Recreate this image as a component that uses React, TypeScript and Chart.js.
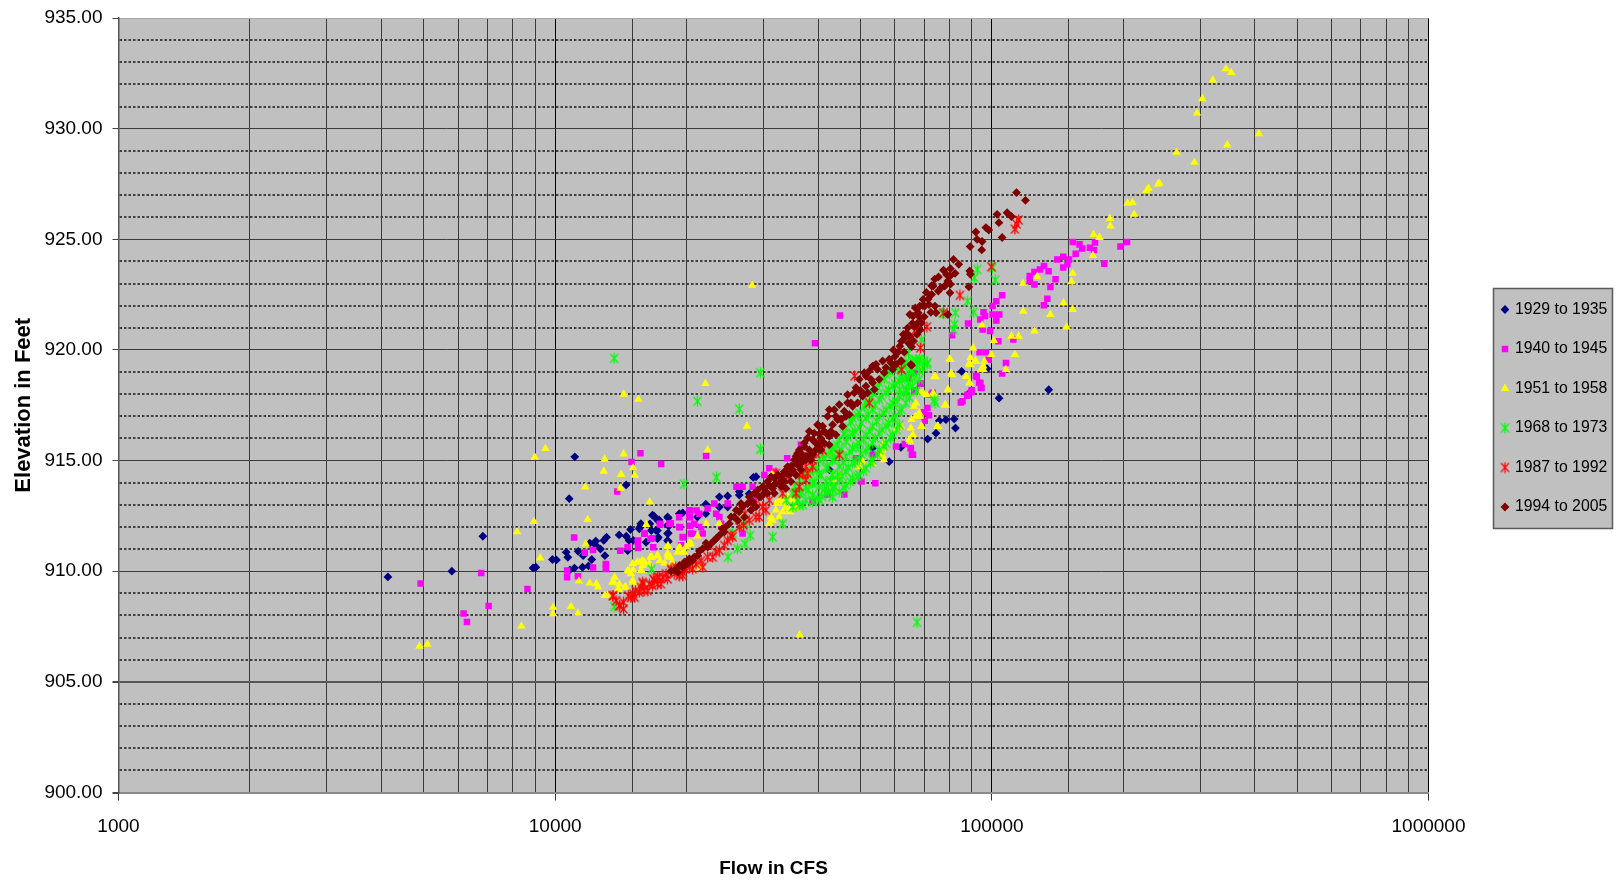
import React, { useEffect, useRef } from "react";
import { Chart, registerables } from "chart.js";
import { drawPoint } from "chart.js/helpers";

Chart.register(...registerables);

const flowLabels = [1000, 10000, 100000, 1000000];
const majorElevations = [900, 905, 910, 915, 920, 925, 930, 935];
const seriesNames = ["1929 to 1935", "1940 to 1945", "1951 to 1958", "1968 to 1973", "1987 to 1992", "1994 to 2005"];

const s1929: [number, number][] = [
  [4140,909.74],[5800,910],[6830,911.58],[11090,915.17],[10770,913.28],[14540,913.9],[8900,910.15],[9030,910.18],[9860,910.53],[10070,910.51],
  [10600,910.86],[10690,910.63],[10810,910.06],[11070,910.14],[11550,910.18],[11920,910.24],[12130,910.53],[11590,910.7],[11290,910.9],[12000,911.27],
  [12390,911.36],[12390,911.17],[12700,911],[13000,910.7],[12920,911.39],[13110,911.54],[14010,911.64],[14550,911.58],[14880,911.88],[14760,911.39],
  [15100,911.39],[14660,910.93],[15630,911.99],[15780,912.09],[16150,911.31],[16480,912.14],[16600,911.84],[16830,912.5],[17140,911.84],[17220,911.54],
  [17300,912.32],[18160,912.4],[18250,912.06],[18160,911.72],[18160,911.34],[19590,912.64],[15580,911.92],[15710,912.15],[16700,912.53],[17160,912.3],
  [17010,911.85],[17160,911.47],[18090,912.45],[18090,912.08],[18090,911.7],[18090,911.39],[19240,912.6],[21170,912.45],[22130,912.6],[22130,913.03],
  [23770,913.36],[23770,912.9],[24830,913.4],[24830,912.9],[26400,913.6],[26400,913.44],[27820,913.5],[28420,914.24],[28840,914.27],
  [85300,919.03],[97500,919.15],[88000,917.98],[103900,917.82],[75800,916.8],[78520,916.85],[82000,916.88],[82540,916.47],[74500,916.24],[71300,915.97],
  [61900,915.6],[58200,914.95],[53300,915.56],[42460,914.58],[135000,918.2],
];

const s1940: [number, number][] = [
  [4920,909.44],[6770,909.92],[6170,908.09],[6280,907.7],[7040,908.43],[8640,909.2],[11050,911.52],[10650,910.03],[10650,909.73],[11270,909.77],
  [11690,910.84],[12210,910.96],[12210,910.17],[13060,910.33],[13060,910.1],[13870,913.6],[14960,914.94],[15680,915.33],[17490,914.85],[14090,910.93],
  [14650,911.08],[15490,911.39],[15490,911.05],[16030,911.69],[16700,911.49],[16770,911.08],[17420,912.11],[18400,912.17],[19230,912.44],[19290,911.99],
  [20340,912.74],[20340,912.44],[20340,912.06],[21070,912.74],[20700,911.69],[19630,911.54],[15450,911.32],[16000,911.7],[16530,911.47],[17360,912.15],
  [18260,912.15],[19250,912],[19590,911.55],[19420,911.17],[20290,912.76],[20290,912.45],[20830,912.15],[20450,911.7],[21390,912.6],[21590,912],
  [21770,911.7],[22350,912.83],[23150,913.06],[23370,912.6],[23770,912.45],[23990,912.15],[24830,913.06],[26010,913.82],[26870,913.82],[28320,913.82],
  [30130,914.35],[30930,914.65],[31750,914.5],[26870,911.7],[22160,915.21],[36540,915.71],[33990,915.11],[28430,913.21],[42030,913.47],[45930,913.47],
  [54100,913.97],[50290,914.05],[48850,915.11],[53340,915.26],[38860,913.14],[60330,915.64],[65250,915.56],[65600,915.26],[66300,918.97],[68600,918.48],
  [66700,918.18],[85700,917.68],[88000,917.98],[89900,918.18],[71200,917.38],[69900,917.18],[73170,918.06],[92000,918.82],[93500,918.52],[94400,918.29],
  [153300,924.88],[158800,924.77],[161000,924.58],[167700,924.62],[172300,924.85],[171300,924.52],[155600,924.35],[141200,924.09],[145700,924.21],[150300,924.09],
  [149000,923.87],[145700,923.72],[180900,923.9],[197000,924.67],[204000,924.88],[131600,923.79],[128900,923.64],[125200,923.52],[134900,923.56],[122100,923.34],
  [122100,923.11],[125200,922.96],[139900,923.19],[136200,922.84],[134000,922.31],[131600,922.02],[105600,922.47],[102400,922.2],[100400,921.98],[100400,921.6],
  [104000,921.6],[95700,921.7],[96500,921.53],[94100,921.38],[102400,921.33],[88200,921.19],[95300,920.92],[99100,920.85],[81100,920.66],[112000,920.47],
  [103500,920.39],[93700,919.89],[96900,919.89],[98300,919.56],[107700,919.41],[105600,918.93],[92400,918.78],[94100,918.5],[94700,918.28],[89800,918.1],
  [87800,917.93],[84900,917.62],[71800,917.05],[70200,916.8],[66500,918.13],[71800,917.97],[68600,918.47],[63200,915.75],[65200,915.56],[66000,915.26],
  [64400,918.73],[44880,921.56],[39360,920.3],
];

const s1951: [number, number][] = [
  [4890,906.61],[5100,906.7],[8370,907.52],[9890,908.37],[9890,908.07],[10870,908.4],[11280,908.1],[8980,915.15],[9500,915.54],[8940,912.24],
  [8180,911.78],[9240,910.6],[11870,912.33],[11720,913.8],[12980,915.06],[12920,914.52],[14350,915.3],[15510,917.77],[14350,918],[14160,914.37],
  [15080,914.67],[15210,914.33],[14110,913.75],[16460,913.13],[16170,912.11],[11750,911.23],[11340,909.55],[12000,909.46],[12430,909.43],[12530,909.28],
  [13180,908.9],[13620,909.5],[13990,909.16],[14500,909.3],[15080,909.5],[14770,910],[15080,910.06],[15630,910.4],[16030,910.4],[15760,910.03],
  [16650,910.63],[17140,910.7],[18130,910.7],[18130,911.16],[19290,911.08],[20340,911.23],[19620,910.9],[18540,910.4],[17790,910.36],
  [22090,918.48],[27490,916.55],[22350,915.48],[31480,914.42],[32600,913.21],[33200,913.06],[33800,912.9],[32040,912.76],[34560,912.68],[35600,912.83],
  [31480,912.3],[30930,912.15],[34100,913.36],[34980,913.21],[26980,912.53],[23770,912.15],[22160,912.15],[21170,911.59],[20290,911.24],[19250,911.09],
  [18090,911.09],[18090,910.79],[17160,910.71],[16530,910.64],[15850,910.48],[15410,910.41],[15050,910.33],[15050,909.58],[14650,910.03],[13520,909.5],
  [13950,909.2],[14440,909.27],[13000,908.9],[18350,910.64],[19760,910.86],[20450,911.24],[21390,910.18],
  [32040,913.06],[33200,912.68],[34360,912.76],[35290,912.91],[32600,912.45],[31210,912.45],[33480,913.21],
  [15720,910.03],[16430,910.33],[17360,910.48],[18260,910.64],[19080,910.86],[19920,911.09],[15860,910.26],[14910,909.88],[14020,909.42],[13680,909.73],
  [44720,914.35],[49710,914.73],[53340,914.88],[56100,915.48],[56100,915.26],[56600,915.79],[50590,914.95],[43190,914.12],[56600,915.03],[60300,916.39],
  [61920,916.55],[64670,915.95],[65250,916.47],[68200,917.15],[69000,916.55],[66300,917.45],[66900,917],[75100,916.55],[69600,918.06],[74300,918.79],
  [80700,918.94],[79300,918.2],[73170,918],[78200,917.53],[88800,918.5],[87230,918.82],[80000,919.58],[88600,919.35],[91800,919.5],[95600,919.27],[94600,919.12],
  [291100,928.48],[241800,927.54],[228500,927.3],[204600,926.63],[210000,926.66],[211900,926.13],[186400,925.94],[186800,925.6],[171000,925.21],[176400,925.08],
  [170400,924.27],[153100,923.46],[152300,923.08],[127000,923.31],[117800,923],[145900,922.13],[153100,921.83],[136100,921.6],[118000,921.75],[148300,921.03],
  [125200,920.85],[110900,920.62],[115200,920.62],[101100,920.42],[112900,919.79],[95000,921.12],[99700,919.79],[90600,920.09],[89300,919.64],[89300,919.33],
  [91900,919.49],[96100,919.49],[95700,919.11],[107700,919.11],[80400,919.56],[81100,918.88],[73900,918.8],[87500,918.8],[89000,918.5],[79400,918.2],
  [73400,918.05],[78300,917.5],[69000,918.05],[71000,917.97],[67000,917.6],[68400,917],[65500,916.85],[69000,916.54],[75400,916.54],[66000,916.17],[64900,915.87],
  [28250,922.92],[36300,907.12],[343600,932.7],[353400,932.53],[320700,932.19],[303400,931.35],[295000,930.7],[346000,929.26],[409000,929.77],[265000,928.93],
  [240000,927.49],[226000,927.2],
];

const s1968: [number, number][] = [
  [13650,919.62],[29500,918.97],[21180,917.68],[26400,917.33],[29500,915.51],[19720,913.94],[23400,914.24],[67400,907.69],[13650,908.4],[16620,910.09],
  [24870,910.64],[26130,911.02],[27210,911.24],[27970,911.62],[31480,911.55],[33200,912.15],[27210,912.15],[25490,911.7],
  [33800,913.21],[34980,913.52],[34980,912.91],[36230,914.12],[36230,913.52],[36230,912.98],[37520,914.27],[37520,913.74],[37520,913.21],
  [38860,914.58],[38860,913.97],[38860,913.44],[38860,913.14],[40250,915.03],[40250,914.42],[40250,913.82],[40250,913.21],
  [41700,915.26],[41700,914.65],[41700,914.05],[41700,913.52],[43190,915.56],[43190,915.03],[43190,914.35],[43190,913.74],[43190,913.36],
  [44720,915.94],[44720,915.33],[44720,914.73],[44720,914.12],[44720,913.59],[46330,916.47],[46330,915.86],[46330,915.18],[46330,914.5],[46330,913.89],
  [47990,916.92],[47990,916.24],[47990,915.56],[47990,914.88],[47990,914.2],[49710,917.15],[49710,916.47],[49710,915.79],[49710,915.03],[49710,914.35],
  [51490,917.61],[51490,916.92],[51490,916.17],[51490,915.41],[51490,914.65],[53340,918.06],[53340,917.3],[53340,916.55],[53340,915.79],[53340,915.03],
  [55230,918.52],[55230,917.76],[55230,917],[55230,916.24],[55230,915.48],[57220,918.89],[57220,918.06],[57220,917.3],[57220,916.55],[57220,915.79],
  [59270,919.12],[59270,918.36],[59270,917.61],[59270,916.85],[59270,916.17],[61380,919.27],[61380,918.59],[61380,917.91],[61380,917.19],[61380,916.62],
  [63570,919.42],[63570,918.74],[63570,918.14],[63570,917.61],[65850,919.5],[65850,918.97],[65850,918.36],[68200,919.58],[68200,919.05],[68200,918.67],[69900,919.5],
  [35400,913.82],[35900,913.2],[37100,914.38],[36600,913.58],[36950,912.99],[38400,914.5],[37950,913.65],[39700,914.6],[39200,914.02],[39850,913.3],
  [41200,915.1],[40600,914.32],[41350,913.7],[40800,913.38],[42800,915.4],[42100,914.7],[42700,914.1],[42300,913.6],[44200,915.7],[43700,915.12],[44300,914.33],[43750,913.8],
  [45800,916.2],[45200,915.5],[45700,914.9],[45350,914.3],[45900,913.75],[47500,916.75],[46800,916.08],[47300,915.4],[46900,914.7],[47400,914.05],
  [49200,917.05],[48600,916.32],[49100,915.65],[48600,914.95],[49200,914.28],[51000,917.45],[50300,916.7],[50800,915.95],[50200,915.3],[50800,914.52],
  [52900,917.82],[52100,917.08],[52600,916.32],[52100,915.6],[52700,914.9],[54800,918.3],[54000,917.5],[54500,916.78],[54100,916.02],[54700,915.28],
  [56700,918.68],[55900,917.9],[56500,917.15],[56000,916.4],[56600,915.65],[58700,919],[58000,918.2],[58500,917.45],[58000,916.7],[58600,916.03],
  [60800,919.2],[60100,918.45],[60700,917.67],[60100,917],[60600,916.4],[62900,919.35],[62200,918.65],[62800,918],[62200,917.3],[65100,919.15],[64400,918.48],[64800,917.85],
  [67400,919.3],[66600,918.75],[67200,918.14],[69400,919.2],[71200,919.43],[73800,917.72],
  [92600,923.64],[91200,923.26],[100400,923.72],[101800,923.16],[88000,922.2],[82500,921.68],[90900,921.7],[77100,921.65],[82100,921.15],[81700,920.92],
  [69000,920.47],[68400,919.56],[64400,919.86],[71000,919.34],[67000,919.56],[62700,919.26],[63800,918.2],[61560,918.2],[74100,917.6],[64400,918.8],[62100,918.8],
];

const s1987: [number, number][] = [
  [13540,908.89],[14020,908.44],[14340,908.59],[14910,908.82],[15280,909.12],[15720,909.27],[15980,909.12],[16430,909.42],[16870,909.58],[17470,909.42],
  [17160,909.73],[17940,909.88],[18420,910.11],[19590,909.8],[20290,910.18],[21020,910.33],[21770,910.18],[22950,910.64],[23770,910.94],[24830,911.39],
  [25490,911.55],[27210,912.6],[28820,913.06],[27000,912.08],[30390,912.76],[29340,912.45],[32040,914.42],[33200,913.52],[30930,913.21],[39550,915.33],
  [40950,915.48],[36870,914.42],[37520,914.12],[38860,914.73],[36230,913.82],[44720,915.26],[52400,917.61],[48500,918.82],
  [13790,908.67],[14340,908.29],[14700,908.89],[15200,908.82],[15580,909.05],[15860,909.5],[16290,909.12],[16700,909.35],[17160,909.42],[17650,909.73],
  [18090,909.65],[18720,909.88],[19250,909.8],[18880,910.18],[19760,910.11],[20640,910.11],[21590,910.48],[22350,910.64],[23350,910.86],[24390,911.17],
  [25270,911.62],[26400,912],[27820,912.3],[29860,912.91],[28820,912.45],[32040,914.12],[33770,914.27],[35600,913.52],[37860,914.42],[39550,915.64],
  [38860,915.03],[40250,915.79],[36230,914.35],[37520,914.73],
  [112900,925.46],[115200,925.87],[113900,925.69],[99700,923.76],[84500,922.47],[77600,921.68],[71000,921.04],[68600,920.09],[62100,919.11],[66500,920.85],
  [13580,908.9],[14070,908.45],[15080,908.98],[15900,909.43],[16770,909.65],[17300,909.73],[18450,910.03],[19620,909.95],
];

const s1994: [number, number][] = [
  [18420,910],[18850,910.06],[19250,910.26],[19760,910.41],[20290,910.56],[20830,910.64],[21390,910.91],[22160,911.27],[22350,911.09],[23150,911.39],
  [23770,911.62],[24390,911.77],[25050,912.15],[25710,912.45],[26400,912.68],[26870,912.91],[27590,913.06],[28320,913.14],[28820,912.91],[29340,913.36],
  [29860,913.82],[30390,913.59],[30930,913.89],[31480,913.74],[32040,913.97],[32600,914.27],[33520,914.05],[34360,914.35],[34980,914.58],[35600,914.88],
  [36230,914.73],[36870,915.26],[37520,915.03],[38190,915.48],[38860,915.26],[39550,915.79],[38190,916.32],[40610,916],[40250,916.55],[41700,916.24],
  [42440,917.3],[43190,916.62],[43950,917],[45130,916.85],[46330,917],[46740,917.61],[47990,917.45],[48420,918.06],[50590,917.91],[51490,918.36],
  [52870,918.67],[53810,918.21],[54750,919.12],[57220,919.2],[58740,919.42],[61920,919.5],[65250,919.35],[59270,919.12],[53340,919.27],[51490,918.82],
  [36230,915.03],[37200,915.64],[38860,915.94],[40250,915.64],[41300,916.32],[42440,916.09],[40250,916.2],[37520,915.2],[35600,915.2],[34700,914.75],
  [33200,914.35],[31750,914.2],[30650,914.05],[29860,913.45],[32950,913.82],[33990,914.42],[36230,915.48],
  [29600,913.36],[30120,913.74],[30660,913.52],[31210,914.27],[31770,913.52],[32340,914.35],[32900,914.05],[33480,914.5],[33770,913.74],[34070,914.73],
  [34670,914.05],[35290,915.03],[35600,914.35],[35920,915.33],[36550,914.58],[36870,914.95],[37190,915.79],[37860,915.18],[37860,916.02],[38520,915.03],
  [39200,916.24],[39550,915.48],[39900,916.62],[40610,915.48],[40970,916.55],[41330,915.79],[42060,917],[42440,915.71],[42810,916.32],[43570,917.3],
  [43950,916.17],[44340,916.85],[44740,917.53],[45520,916.55],[45930,917.23],[46740,917.98],[47160,917.08],[47570,917.61],[48850,918.29],[49280,917.61],
  [49710,918.67],[50150,918.14],[51040,918.97],[51950,918.06],[52400,919.05],[53340,918.52],[54280,919.35],[55230,918.67],[56220,919.5],[56720,918.97],
  [58220,919.58],[60330,919.35],
  [25270,912.45],[25980,912.76],[26190,912.3],[26650,913.06],[27130,912.45],[27820,913.36],[28070,912.76],[28570,913.52],[29080,913.67],
  [19080,909.95],[19590,910.18],[20110,910.33],[20640,910.48],[21200,910.71],[21770,911.02],[22740,911.24],[23350,911.47],[24120,911.92],[24570,912],
  [113900,927.11],[119400,926.76],[102800,926.13],[108400,926.2],[110900,926.03],[103800,925.75],[91900,925.33],[96900,925.53],[98400,925.42],[92500,925],
  [95000,924.9],[105600,925.08],[89200,924.67],[94800,924.52],[81700,924.09],[84000,923.87],[80400,923.67],[82400,923.46],[80200,923.34],[89000,923.57],
  [89300,923.42],[73400,922.89],[75400,922.66],[78000,922.89],[79300,923.12],[80400,922.97],[88600,922.85],[80200,922.58],[79300,921.6],[74500,921.68],
  [69600,922.28],[72800,922.51],[71800,922.05],[68400,921.98],[70200,921.98],[74100,921.98],[67800,921.68],[64900,921.6],[66000,921.53],[69000,921.22],
  [66500,921.07],[63800,920.77],[62700,920.7],[64900,920.62],[67400,920.7],[62100,920.39],[61560,920.17],[65500,920.14],[65500,919.3],[62100,919.5],
  [63000,920.5],[64200,921],[65800,921.2],[66800,921.9],[68200,921.5],[69500,922],[70800,922.6],[71500,922.3],[72800,922.9],[74000,923.2],[75500,923.3],[76500,922.8],
  [77500,923.6],[78800,923.4],[67500,921.2],[70000,921.5],[72500,921.7],[61000,919.9],[63000,919.9],[64500,920.3],[66200,920.4],[68500,920.9],[60000,919.7],[59500,920],
];

const seriesPoints = [s1929, s1940, s1951, s1968, s1987, s1994];
const seriesColors = ["#000080", "#FF00FF", "#FFFF00", "#00FF00", "#FF0000", "#800000"];

function starMarker(color: string): HTMLCanvasElement {
  const c = document.createElement("canvas");
  c.width = 11;
  c.height = 12;
  const g = c.getContext("2d")!;
  g.strokeStyle = color;
  g.lineWidth = 1.2;
  g.beginPath();
  g.moveTo(1.5, 1.5);
  g.lineTo(9.5, 10.5);
  g.moveTo(9.5, 1.5);
  g.lineTo(1.5, 10.5);
  g.moveTo(5.5, 0.5);
  g.lineTo(5.5, 11.5);
  g.stroke();
  return c;
}

const boxLegend = {
  id: "boxLegend",
  afterDraw(chart: any) {
    const { ctx } = chart;
    ctx.save();
    ctx.fillStyle = "#C0C0C0";
    ctx.fillRect(1493.5, 288.5, 119, 240);
    ctx.strokeStyle = "#5a5a5a";
    ctx.lineWidth = 1.5;
    ctx.strokeRect(1493.5, 288.5, 119, 240);
    const rows = [309.5, 349, 388.5, 428, 467.5, 507];
    chart.data.datasets.forEach((d: any, i: number) => {
      ctx.fillStyle = d.pointBackgroundColor;
      ctx.strokeStyle = d.pointBackgroundColor;
      ctx.lineWidth = 0;
      drawPoint(ctx, { pointStyle: d.pointStyle, radius: d.pointRadius, borderWidth: 0, rotation: 0 }, 1505, rows[i]);
      ctx.fillStyle = "#000";
      ctx.font = '15.8px "Liberation Sans", sans-serif';
      ctx.textAlign = "left";
      ctx.textBaseline = "middle";
      ctx.fillText(d.label, 1515, rows[i]);
    });
    ctx.restore();
  },
};

export default function App() {
  const ref = useRef<HTMLCanvasElement>(null);
  useEffect(() => {
    const styles: any[] = ["rectRot", "rect", "triangle", starMarker("#00FF00"), starMarker("#FF0000"), "rectRot"];
    const radii = [4.4, 4.6, 4.9, 5, 5, 4.4];
    const tickFont = { family: '"Liberation Sans", sans-serif', size: 19 };
    const chart = new Chart(ref.current!, {
      type: "scatter",
      data: {
        datasets: seriesNames.map((label, i) => ({
          label,
          data: seriesPoints[i].map(([x, y]) => ({ x, y })),
          order: seriesNames.length - i,
          pointStyle: styles[i],
          pointRadius: radii[i],
          pointBackgroundColor: seriesColors[i],
          pointBorderColor: seriesColors[i],
          pointBorderWidth: 0,
          showLine: false,
        })),
      },
      plugins: [
        {
          id: "plotFill",
          beforeDraw(c: any) {
            const a = c.chartArea;
            c.ctx.save();
            c.ctx.fillStyle = "#C0C0C0";
            c.ctx.fillRect(a.left, a.top, a.width, a.height);
            c.ctx.restore();
          },
        },
        boxLegend,
      ],
      options: {
        responsive: false,
        animation: false,
        layout: { padding: { left: 0, right: 187.5, top: 18, bottom: 0 } },
        plugins: { legend: { display: false }, tooltip: { enabled: false } },
        scales: {
          x: {
            type: "logarithmic",
            min: 1000,
            max: 1000000,
            afterFit(s: any) {
              s.height = 89.5;
              s.paddingLeft = 0;
              s.paddingRight = 0;
            },
            title: {
              display: true,
              text: "Flow in CFS",
              color: "#000",
              font: { family: tickFont.family, size: 19, weight: "bold" },
              padding: { top: 0, bottom: 2 },
            },
            ticks: {
              autoSkip: false,
              maxRotation: 0,
              color: "#000",
              font: tickFont,
              padding: 15,
              callback: (v: any) => (flowLabels.includes(Number(v)) ? String(v) : ""),
            },
            grid: {
              color: (c: any) => (flowLabels.includes(c.tick?.value) ? "#000000" : "#3a3a3a"),
              lineWidth: 1,
              tickLength: 8,
              tickColor: (c: any) => (flowLabels.includes(c.tick?.value) ? "#333" : "rgba(0,0,0,0)"),
            },
            border: { color: "#8a8a8a", width: 2 },
          },
          y: {
            type: "linear",
            min: 900,
            max: 935,
            afterFit(s: any) {
              s.width = 118.5;
              s.paddingTop = 0;
              s.paddingBottom = 0;
            },
            title: {
              display: true,
              text: "Elevation in Feet",
              color: "#000",
              font: { family: tickFont.family, size: 22, weight: "bold" },
              padding: { top: 11, bottom: 0 },
            },
            ticks: {
              stepSize: 1,
              autoSkip: false,
              color: "#000",
              font: tickFont,
              padding: 10,
              callback: (v: any) => (majorElevations.includes(Number(v)) ? Number(v).toFixed(2) : ""),
            },
            grid: {
              color: (c: any) => {
                const v = c.tick?.value;
                if (v === 900) return "#8a8a8a";
                if (v === 935) return "#a8a8a8";
                if (v === 905) return "#555555";
                return majorElevations.includes(v) ? "#3c3c3c" : "#404040";
              },
              lineWidth: (c: any) => {
                const v = c.tick?.value;
                if (v === 905 || v === 900) return 2;
                return majorElevations.includes(v) ? 1 : 2;
              },
              tickLength: 6,
              tickColor: (c: any) => (majorElevations.includes(c.tick?.value) ? "#444" : "rgba(0,0,0,0)"),
            },
            border: {
              color: "#555",
              width: 1.5,
              dash: (c: any) => (majorElevations.includes(c.tick?.value) ? [] : [2.5, 2]),
            },
          },
        },
      } as any,
    });
    return () => chart.destroy();
  }, []);
  return (
    <div style={{ position: "absolute", left: 0, top: 0, width: 1616, height: 882, background: "#fff" }}>
      <canvas ref={ref} width={1616} height={882} style={{ display: "block", filter: "blur(0.5px)" }} />
    </div>
  );
}
